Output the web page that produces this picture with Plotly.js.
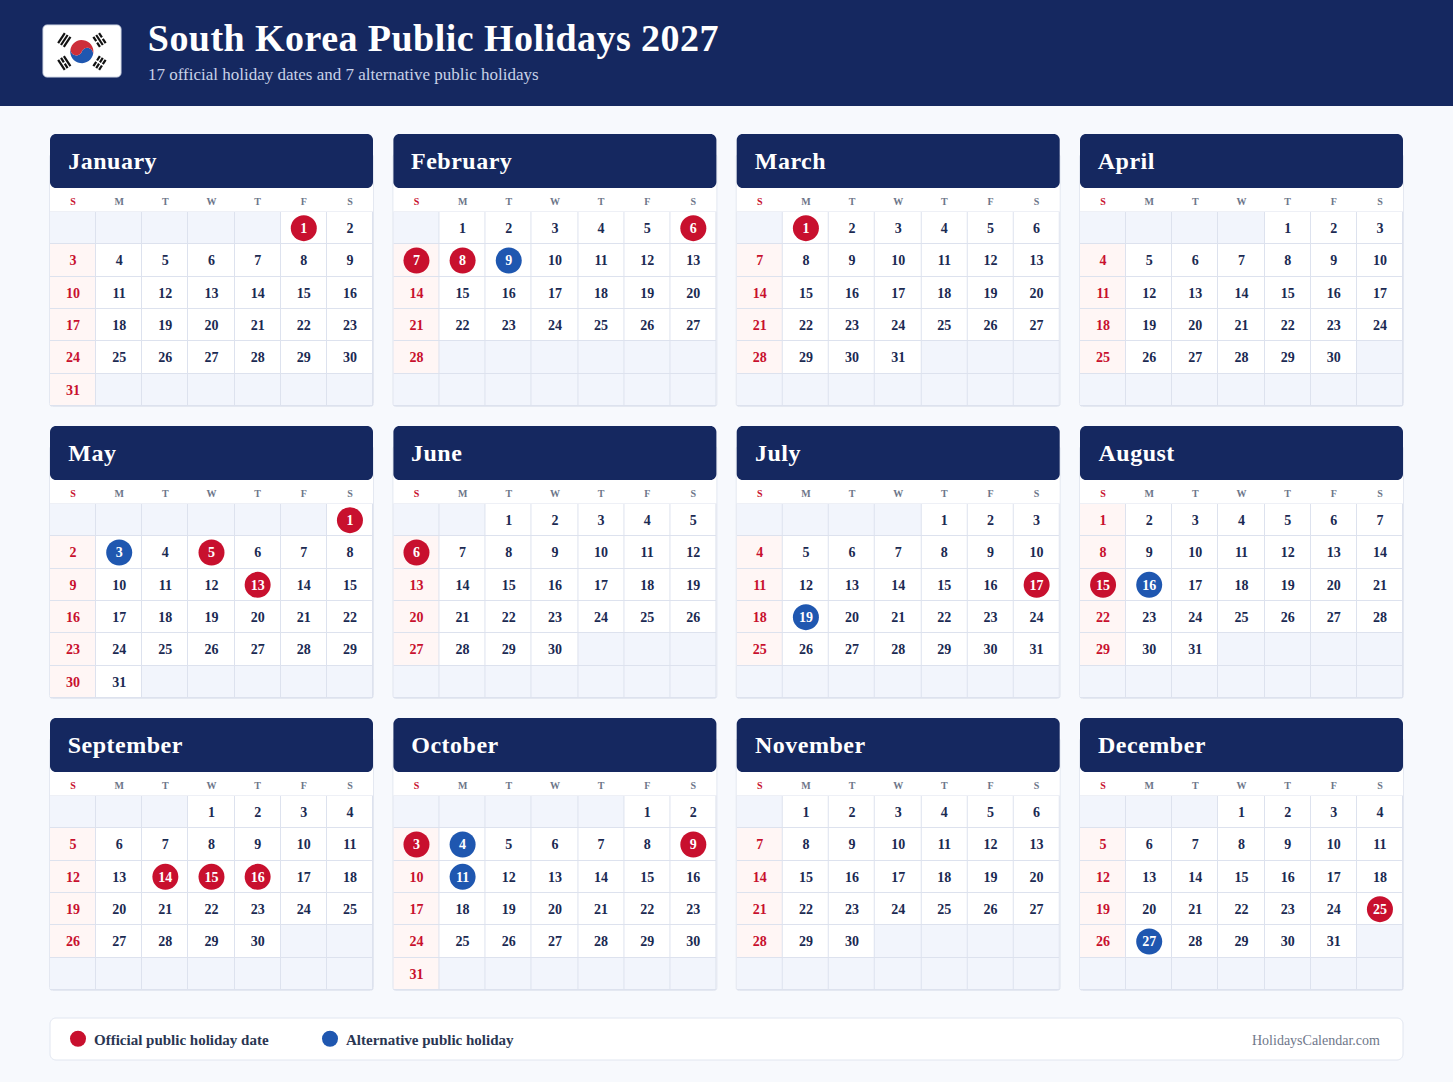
<!DOCTYPE html>
<html>
<head>
<meta charset="utf-8">
<script src="https://cdn.plot.ly/plotly-3.0.1.min.js"></script>
<style>
html, body { margin: 0; padding: 0; background: #f7f9fd; }
#myDiv { width: 1453px; height: 1082px; }
g.annotation[data-index="0"] text { letter-spacing: 0.45px; }
g.annotation[data-index="2"] text, g.annotation[data-index="3"] text, g.annotation[data-index="4"] text,
g.annotation[data-index="5"] text, g.annotation[data-index="6"] text, g.annotation[data-index="7"] text,
g.annotation[data-index="8"] text, g.annotation[data-index="9"] text, g.annotation[data-index="10"] text,
g.annotation[data-index="11"] text, g.annotation[data-index="12"] text, g.annotation[data-index="13"] text { letter-spacing: 0.5px; }
.legendtext { transform: translateX(-4px); }
.textpoint text { transform: translateY(1.2px); }
</style>
</head>
<body>
<div id="myDiv"></div>
<script>
var W = 1453, H = 1082;

var monthNames = ['January', 'February', 'March', 'April', 'May', 'June', 'July',
  'August', 'September', 'October', 'November', 'December'];
var firstWeekday = [5, 1, 1, 4, 6, 2, 4, 0, 3, 5, 1, 3];
var monthLengths = [31, 28, 31, 30, 31, 30, 31, 31, 30, 31, 30, 31];
var weekdayLabels = ['S', 'M', 'T', 'W', 'T', 'F', 'S'];

var officialDates = [[1], [6, 7, 8], [1], [], [1, 5, 13], [6], [17], [15], [14, 15, 16], [3, 9], [], [25]];
var alternativeDates = [[], [9], [], [], [3], [], [19], [16], [], [4, 11], [], [27]];

var navy = '#152860', red = '#c8102e', blue = '#1f57b0', ink = '#1b2a52';
var serif = '"Liberation Serif", serif';

var cardLeft = [50, 393.4, 736.7, 1080];
var cardTop = [134, 426, 718];
var cardWidth = 323, headH = 54, weekH = 24, bodyH = 194;

// page pixels to paper fractions
function px(x) { return x / W; }
function py(y) { return 1 - y / H; }

function rect(x0, y0, x1, y1, fill, line) {
  return {type: 'rect', xref: 'paper', yref: 'paper', layer: 'below', x0: px(x0), x1: px(x1),
    y0: py(y0), y1: py(y1), fillcolor: fill, line: {color: line || fill, width: line ? 1 : 0}};
}

function round(x0, y0, x1, y1, r, fill, line) {
  function p(x, y) { return px(x) + ',' + py(y); }
  var k = r * 0.45;
  var d = 'M' + p(x0 + r, y0) + ' L' + p(x1 - r, y0) +
    ' C' + p(x1 - k, y0) + ' ' + p(x1, y0 + k) + ' ' + p(x1, y0 + r) +
    ' L' + p(x1, y1 - r) +
    ' C' + p(x1, y1 - k) + ' ' + p(x1 - k, y1) + ' ' + p(x1 - r, y1) +
    ' L' + p(x0 + r, y1) +
    ' C' + p(x0 + k, y1) + ' ' + p(x0, y1 - k) + ' ' + p(x0, y1 - r) +
    ' L' + p(x0, y0 + r) +
    ' C' + p(x0, y0 + k) + ' ' + p(x0 + k, y0) + ' ' + p(x0 + r, y0) + ' Z';
  return {type: 'path', xref: 'paper', yref: 'paper', layer: 'below', path: d, fillcolor: fill,
    line: {color: line || fill, width: line ? 1 : 0}};
}

function label(text, x, y, size, color, anchor, weight) {
  return {text: text, xref: 'paper', yref: 'paper', x: px(x), y: py(y), xanchor: anchor, yanchor: 'middle',
    showarrow: false, font: {family: serif, size: size, color: color, weight: weight || 400}};
}

var shapes = [rect(0, 0, W, 106, navy)];
var annotations = [
  label('South Korea Public Holidays 2027', 433.5, 38.5, 38, '#ffffff', 'center', 700),
  label('17 official holiday dates and 7 alternative public holidays', 146, 74.5, 17, '#c8d2e8', 'left')
];

// flag
shapes.push(round(43, 25, 121, 77, 4, '#ffffff', '#d5dbe8'));
var fx = 81.8, fy = 51.6, fr = 11.6, tilt = 20 * Math.PI / 180;

function arcPoints(cx, cy, r, a0, a1) {
  var pts = [];
  for (var s = 0; s <= 16; s++) {
    var a = a0 + (a1 - a0) * s / 16;
    pts.push(px(cx + r * Math.cos(a)) + ',' + py(cy + r * Math.sin(a)));
  }
  return pts;
}
function taegeuk(fill, flip) {
  var ux = Math.cos(tilt) * fr / 2, uy = Math.sin(tilt) * fr / 2;
  var pts = arcPoints(fx, fy, fr, tilt + Math.PI, tilt + 2 * Math.PI)
    .concat(arcPoints(fx + ux, fy + uy, fr / 2, tilt, tilt - Math.PI))
    .concat(arcPoints(fx - ux, fy - uy, fr / 2, tilt, tilt + Math.PI));
  if (flip) {
    pts = arcPoints(fx, fy, fr, tilt, tilt + Math.PI)
      .concat(arcPoints(fx - ux, fy - uy, fr / 2, tilt + Math.PI, tilt))
      .concat(arcPoints(fx + ux, fy + uy, fr / 2, tilt + Math.PI, tilt + 2 * Math.PI));
  }
  return {type: 'path', xref: 'paper', yref: 'paper', layer: 'below', path: 'M' + pts.join(' L') + ' Z',
    fillcolor: fill, line: {width: 0}};
}
shapes.push(taegeuk(blue, true), taegeuk('#cd2e3a', false));

// trigrams: broken flags for each bar, outer bar first
var trigrams = [
  {x: 64.3, y: 40, broken: [0, 0, 0]},
  {x: 99.5, y: 40, broken: [1, 0, 1]},
  {x: 64.3, y: 63, broken: [0, 1, 0]},
  {x: 99.5, y: 63, broken: [1, 1, 1]}
];
trigrams.forEach(function(t) {
  var dx = t.x - fx, dy = t.y - fy, len = Math.sqrt(dx * dx + dy * dy);
  dx /= len; dy /= len;
  var tx = -dy, ty = dx;
  t.broken.forEach(function(b, i) {
    var off = 3.4 * (1 - i), cx = t.x + dx * off, cy = t.y + dy * off;
    var segs = b ? [[-6, -0.8], [0.8, 6]] : [[-6, 6]];
    segs.forEach(function(s) {
      shapes.push({type: 'line', xref: 'paper', yref: 'paper', layer: 'below',
        x0: px(cx + tx * s[0]), y0: py(cy + ty * s[0]), x1: px(cx + tx * s[1]), y1: py(cy + ty * s[1]),
        line: {color: '#111111', width: 2.2}});
    });
  });
});

var data = [];
var layout = {
  width: W, height: H,
  margin: {l: 0, r: 0, t: 0, b: 0, pad: 0},
  paper_bgcolor: '#f7f9fd',
  hovermode: false,
  showlegend: true,
  legend: {
    orientation: 'h', x: px(58), y: py(1039), xanchor: 'left', yanchor: 'middle',
    bgcolor: 'rgba(0,0,0,0)', itemsizing: 'trace', itemclick: false, itemdoubleclick: false,
    entrywidth: 207, entrywidthmode: 'pixels',
    font: {family: serif, size: 15, color: '#2a3652', weight: 700}
  }
};

monthNames.forEach(function(name, m) {
  var col = m % 4, row = Math.floor(m / 4);
  var left = cardLeft[col], top = cardTop[row];
  var gridTop = top + headH + weekH, gridBottom = gridTop + bodyH;
  var suffix = m === 0 ? '' : String(m + 1);

  shapes.push(round(left - 0.5, top + 20, left + cardWidth + 0.5, gridBottom + 0.5, 3, '#ffffff', '#e4e8f1'));
  shapes.push(rect(left, gridTop - 0.5, left + cardWidth, gridBottom, '#dde2ee'));
  shapes.push(round(left, top, left + cardWidth, top + headH, 6, navy));
  annotations.push(label(name, left + 16 + name.length * 0.25, top + 26.8, 24, '#ffffff', 'left', 700));

  var z = [];
  for (var r = 0; r < 6; r++) {
    z.push([0, 0, 0, 0, 0, 0, 0]);
  }
  var dayX = [], dayY = [], dayText = [], dayColor = [];
  var offX = [], offY = [], offText = [];
  var altX = [], altY = [], altText = [];
  for (var d = 1; d <= monthLengths[m]; d++) {
    var slot = firstWeekday[m] + d - 1;
    var cx = slot % 7, cy = Math.floor(slot / 7);
    z[cy][cx] = cx === 0 ? 2 : 1;
    if (officialDates[m].indexOf(d) >= 0) {
      offX.push(cx); offY.push(cy); offText.push(String(d));
    } else if (alternativeDates[m].indexOf(d) >= 0) {
      altX.push(cx); altY.push(cy); altText.push(String(d));
    } else {
      dayX.push(cx); dayY.push(cy); dayText.push(String(d));
      dayColor.push(cx === 0 ? red : ink);
    }
  }

  layout['xaxis' + suffix] = {
    domain: [px(left), px(left + cardWidth)], range: [-0.5, 6.5], anchor: 'y' + suffix, side: 'top',
    tickmode: 'array', tickvals: [0, 1, 2, 3, 4, 5, 6],
    ticktext: weekdayLabels.map(function(w, i) {
      return (i === 0) ? '<span style="color:' + red + '">' + w + '</span>' : w;
    }),
    tickfont: {family: serif, size: 10, color: '#6d7689', weight: 700},
    ticks: '', ticklabelstandoff: 4, showgrid: false, zeroline: false, showline: false, fixedrange: true
  };
  layout['yaxis' + suffix] = {
    domain: [py(gridBottom), py(gridTop)], range: [5.5, -0.5], anchor: 'x' + suffix,
    visible: false, fixedrange: true
  };

  var xa = 'x' + suffix, ya = 'y' + suffix;
  data.push({
    type: 'heatmap', z: z, x: [0, 1, 2, 3, 4, 5, 6], y: [0, 1, 2, 3, 4, 5], xaxis: xa, yaxis: ya,
    zmin: 0, zmax: 2, showscale: false, xgap: 1, ygap: 1, hoverinfo: 'skip', showlegend: false,
    colorscale: [[0, '#f2f5fc'], [0.33, '#f2f5fc'], [0.33, '#ffffff'], [0.66, '#ffffff'], [0.66, '#fff6f5'], [1, '#fff6f5']]
  });
  data.push({
    type: 'scatter', mode: 'markers+text', x: dayX, y: dayY, text: dayText, xaxis: xa, yaxis: ya,
    textposition: 'middle center', showlegend: false, hoverinfo: 'skip',
    marker: {size: 26, color: 'rgba(0,0,0,0)'},
    textfont: {family: serif, size: 14, color: dayColor, weight: 700}
  });
  if (offX.length) {
    data.push({
      type: 'scatter', mode: 'markers+text', name: 'Official public holiday date',
      x: offX, y: offY, text: offText, xaxis: xa, yaxis: ya, textposition: 'middle center',
      marker: {size: 26, color: red}, showlegend: m === 0, hoverinfo: 'skip',
      textfont: {family: serif, size: 14, color: '#ffffff', weight: 700}
    });
  }
  if (altX.length) {
    data.push({
      type: 'scatter', mode: 'markers+text', name: 'Alternative public holiday',
      x: altX, y: altY, text: altText, xaxis: xa, yaxis: ya, textposition: 'middle center',
      marker: {size: 26, color: blue}, showlegend: m === 1, hoverinfo: 'skip',
      textfont: {family: serif, size: 14, color: '#ffffff', weight: 700}
    });
  }
});

// legend card and source line
shapes.push(round(50, 1018, 1403, 1060, 6, '#ffffff', '#e1e6f0'));
annotations.push(label('HolidaysCalendar.com', 1382, 1040, 14, '#6f778a', 'right'));

layout.shapes = shapes;
layout.annotations = annotations;

Plotly.newPlot('myDiv', data, layout, {displayModeBar: false, staticPlot: true});
</script>
</body>
</html>
